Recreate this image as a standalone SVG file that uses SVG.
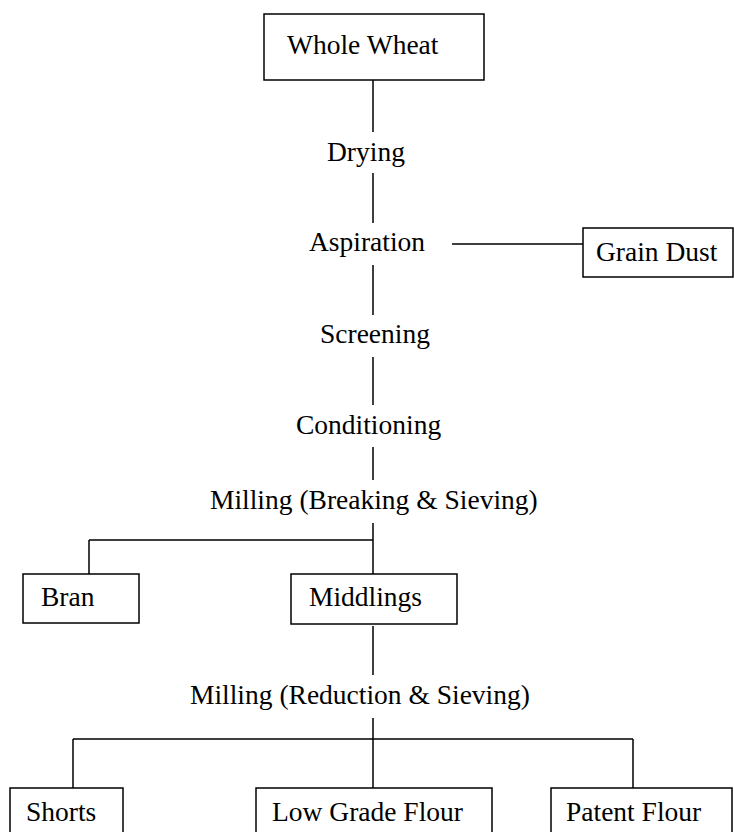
<svg xmlns="http://www.w3.org/2000/svg" width="734" height="832" viewBox="0 0 734 832">
<style>
.box{fill:#fff;stroke:#000;stroke-width:1.5}
.ln{fill:none;stroke:#000;stroke-width:1.5}
text{font-family:"Liberation Serif","Times New Roman",serif;font-size:27.5px;fill:#000}
</style>
<rect width="734" height="832" fill="#fff"/>
<g id="connectors">
<path class="ln" d="M373 80V132M373 173V223M373 265V315M373 357V405M373 447V480M373 523V574M89 540H373M89 540V574M373 626V675M373 718V788M73 739H633M73 739V788M633 739V788M452 244H583"/>
</g>
<g id="whole-wheat"><rect class="box" x="264" y="14" width="220" height="66"/><text x="287" y="54">Whole Wheat</text></g>
<g id="drying"><text x="327" y="161">Drying</text></g>
<g id="aspiration"><text x="309" y="251">Aspiration</text></g>
<g id="grain-dust"><rect class="box" x="583" y="228" width="150" height="49"/><text x="596" y="261">Grain Dust</text></g>
<g id="screening"><text x="320" y="343">Screening</text></g>
<g id="conditioning"><text x="296" y="434">Conditioning</text></g>
<g id="milling-breaking"><text x="210" y="509">Milling (Breaking &amp; Sieving)</text></g>
<g id="bran"><rect class="box" x="23" y="574" width="116" height="49"/><text x="41" y="606">Bran</text></g>
<g id="middlings"><rect class="box" x="291" y="574" width="166" height="50"/><text x="309" y="606">Middlings</text></g>
<g id="milling-reduction"><text x="190" y="704">Milling (Reduction &amp; Sieving)</text></g>
<g id="shorts"><rect class="box" x="10" y="788" width="113" height="60"/><text x="26" y="821">Shorts</text></g>
<g id="low-grade-flour"><rect class="box" x="256" y="788" width="236" height="60"/><text x="272" y="821">Low Grade Flour</text></g>
<g id="patent-flour"><rect class="box" x="551" y="788" width="181" height="60"/><text x="566" y="821">Patent Flour</text></g>
</svg>
